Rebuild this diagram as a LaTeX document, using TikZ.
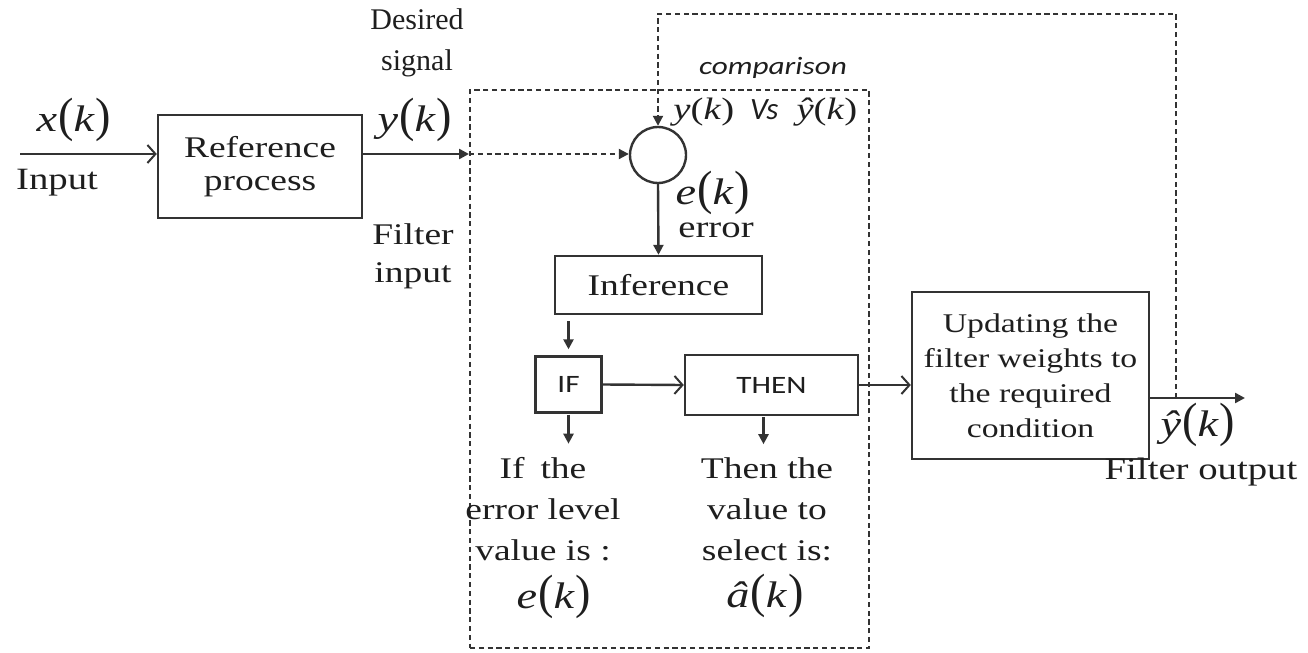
\documentclass[tikz,border=0pt]{standalone}
\usepackage{fontspec}
\usepackage{graphicx}
\setmainfont[FakeStretch=1.25]{Liberation Serif}
\newfontfamily\plainserif{Liberation Serif}
\newfontfamily\calib[FakeStretch=1.25]{Carlito}
\newfontfamily\calibn{Carlito}
\usetikzlibrary{arrows.meta}
\definecolor{lc}{HTML}{333333}
\definecolor{tc}{HTML}{1E1E1E}
\newcommand\sig[1]{\textit{#1}\kern0.5pt\scalebox{1}[1.3]{(}\textit{k}\kern0.5pt\scalebox{1}[1.3]{)}}
\begin{document}
\begin{tikzpicture}[x=0.5pt,y=-0.5pt,
  box/.style={draw=lc, line width=1.2pt, fill=white, align=center, inner sep=0pt, text=tc},
  ln/.style={draw=lc, line width=1.2pt},
  dsh/.style={draw=lc, line width=1pt, dash pattern=on 2.6pt off 1.8pt},
  farrow/.style={-{Triangle[length=5pt,width=5pt]}},
  oarrow/.style={-{Straight Barb[length=4pt,width=9pt,line width=1pt]}},
  txt/.style={font=\fontsize{15}{19.5}\selectfont, align=center, inner sep=0pt, text=tc},
  sg/.style={font=\fontsize{18.5}{20}\selectfont, inner sep=0pt, text=tc}]
\useasboundingbox (0,0) rectangle (1308,653);

% dashed filter frame
\node[dsh, minimum width=199.5pt, minimum height=279pt, inner sep=0pt] (fbox) at (669.5,369) {};

% blocks
\node[box, minimum width=102pt, minimum height=51.5pt, font=\fontsize{15}{16.5}\selectfont] (ref) at (260,166.5) {Reference\\process};
\node[draw=lc, line width=1.2pt, circle, minimum size=28pt, inner sep=0pt, fill=white] (c) at (658,155) {};
\node[box, minimum width=103.5pt, minimum height=29pt, font=\fontsize{15}{16}\selectfont] (inf) at (658.5,285) {Inference};
\node[box, minimum width=33pt, minimum height=28pt, font=\calib\fontsize{12.5}{13}\selectfont] (if) at (568.5,384.5) {IF};
\node[box, minimum width=86.5pt, minimum height=30pt, font=\calib\fontsize{12.5}{13}\selectfont] (then) at (771.5,385) {THEN};
\node[box, minimum width=118.5pt, minimum height=83.5pt, font=\fontsize{13.5}{17.5}\selectfont] (upd) at (1030.5,375.5) {Updating the\\filter weights to\\the required\\condition};

% coordinates
\coordinate (in) at (20,154);
\coordinate (fb) at (1176,398);
\coordinate (fbtop) at (1176,14);
\coordinate (out) at (1245,398);

% connectors
\draw[ln, oarrow] (in) -- (ref.west |- in);
\draw[ln, farrow] (ref.east |- in) -- (fbox.west |- in);
\draw[dsh, farrow] (fbox.west |- in) -- (c.west |- in);
\draw[dsh, farrow] (fb) -- (fbtop) -| (c.north);
\draw[ln, farrow] (c.south) -- (inf.north);
\draw[ln, farrow] ([yshift=-3pt]if.north |- inf.south) -- ([yshift=3pt]if.north);
\draw[ln, oarrow] (if.east) -- (then.west);
\draw[ln, farrow] ([yshift=-0.5pt]if.south) -- ([yshift=-15pt]if.south);
\draw[ln, farrow] ([xshift=-4pt,yshift=-0.5pt]then.south) -- ([xshift=-4pt,yshift=-14pt]then.south);
\draw[ln, oarrow] (then.east) -- (upd.west |- then.east);
\draw[ln, farrow] (upd.east |- fb) -- (out);

% labels
\node[sg] (xk) at (74,120) {\sig{x}};
\node[txt, font=\fontsize{15.5}{16}\selectfont] (inp) at (57,183) {Input};
\node[txt, font=\plainserif\fontsize{15}{20.5}\selectfont] (des) at (417,43) {Desired\\signal};
\node[sg] (yk) at (415,120) {\sig{y}};
\node[txt, font=\fontsize{15}{19}\selectfont] (fin) at (413,256) {Filter\\input};
\node[inner sep=0pt, text=tc, font=\calib\itshape\fontsize{12.5}{13}\selectfont] (cmp) at (773,68) {comparison};
\node[inner sep=0pt, text=tc, anchor=west] (vs) at (673,112) {\fontsize{15.5}{16}\selectfont\textit{y}(\textit{k})\hspace{8pt}{\calibn\itshape Vs}\hspace{9pt}\textit{ŷ}(\textit{k})};
\node[sg] (ek) at (713,193) {\sig{e}};
\node[txt, font=\fontsize{15.5}{16}\selectfont] (err) at (716,230) {error};
\node[txt, font=\fontsize{15}{20.5}\selectfont] (ift) at (543,509) {If\hspace{8pt}the\\error level\\value is :};
\node[sg] (ek2) at (554,597) {\sig{e}};
\node[txt, font=\fontsize{15}{20.5}\selectfont] (tht) at (767,509) {Then the\\value to\\select is:};
\node[sg] (ak) at (765,596) {\sig{â}};
\node[sg] (yhat) at (1198,425) {\sig{ŷ}};
\node[txt, font=\fontsize{15.5}{16}\selectfont] (fout) at (1201,472) {Filter output};
\end{tikzpicture}
\end{document}
